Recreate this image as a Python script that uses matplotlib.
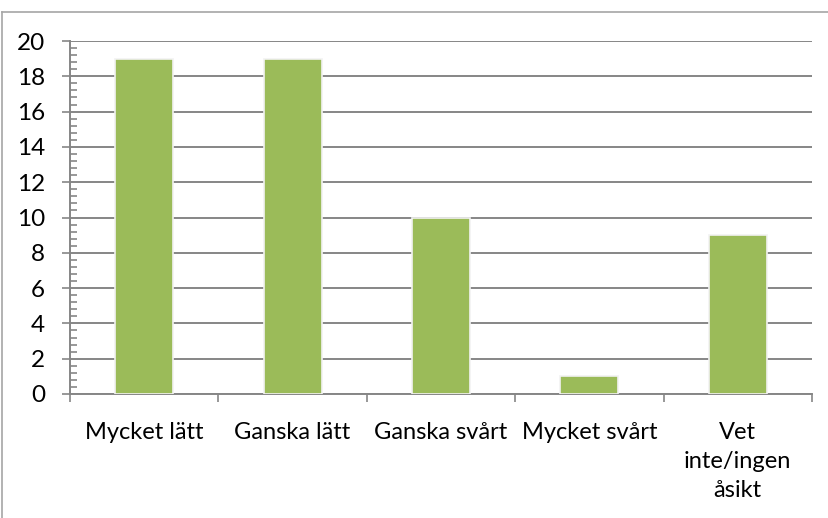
import matplotlib
matplotlib.use('Agg')
import matplotlib.pyplot as plt
from matplotlib.lines import Line2D
import numpy as np

categories = ['Mycket lätt', 'Ganska lätt', 'Ganska svårt', 'Mycket svårt', 'Vet\ninte/ingen\nåsikt']
values = [19, 19, 10, 1, 9]
y_ticks = list(range(0, 21, 2))

plt.rcParams['font.family'] = ['Lato', 'DejaVu Sans']

fig = plt.figure(figsize=(8.29, 5.18), dpi=100)
ax = fig.add_axes([70 / 829, 1 - 394 / 518, 742 / 829, 353 / 518])

x = np.arange(len(categories))
ax.bar(x, values, width=0.39, color='#9BBB59', edgecolor='#f2f2f2', linewidth=1.2, zorder=3)

ax.set_xlim(-0.5, len(categories) - 0.5)
ax.set_ylim(0, 20)

# gridlines
ax.set_yticks(y_ticks)
ax.set_yticklabels([str(v) for v in y_ticks], fontsize=17.5)
ax.yaxis.grid(True, color='#868686', linewidth=1.4, zorder=0)
ax.set_yticks(np.arange(0, 20.01, 0.4), minor=True)
ax.tick_params(axis='y', which='major', direction='out', length=6, width=1.2, color='#868686', pad=12)
ax.tick_params(axis='y', which='minor', direction='in', length=5, width=1.2, color='#868686')

# category labels with boundary ticks
ax.set_xticks(x)
ax.set_xticklabels(categories, fontsize=17, linespacing=1.48, va='top')
ax.tick_params(axis='x', which='major', length=0, pad=20)
ax.set_xticks(np.arange(-0.5, len(categories), 1.0), minor=True)
ax.tick_params(axis='x', which='minor', direction='out', length=6, width=1.2, color='#868686')

for side in ['top', 'right']:
    ax.spines[side].set_visible(False)
for side in ['left', 'bottom']:
    ax.spines[side].set_color('#868686')
    ax.spines[side].set_linewidth(1.4)

# outer chart frame (only top and left edges visible)
fig.add_artist(Line2D([2 / 829, 1], [1 - 12 / 518, 1 - 12 / 518], color='#a6a6a6', linewidth=1.2))
fig.add_artist(Line2D([2 / 829, 2 / 829], [0, 1 - 12 / 518], color='#a6a6a6', linewidth=1.2))

fig.savefig('out.png', dpi=100)
